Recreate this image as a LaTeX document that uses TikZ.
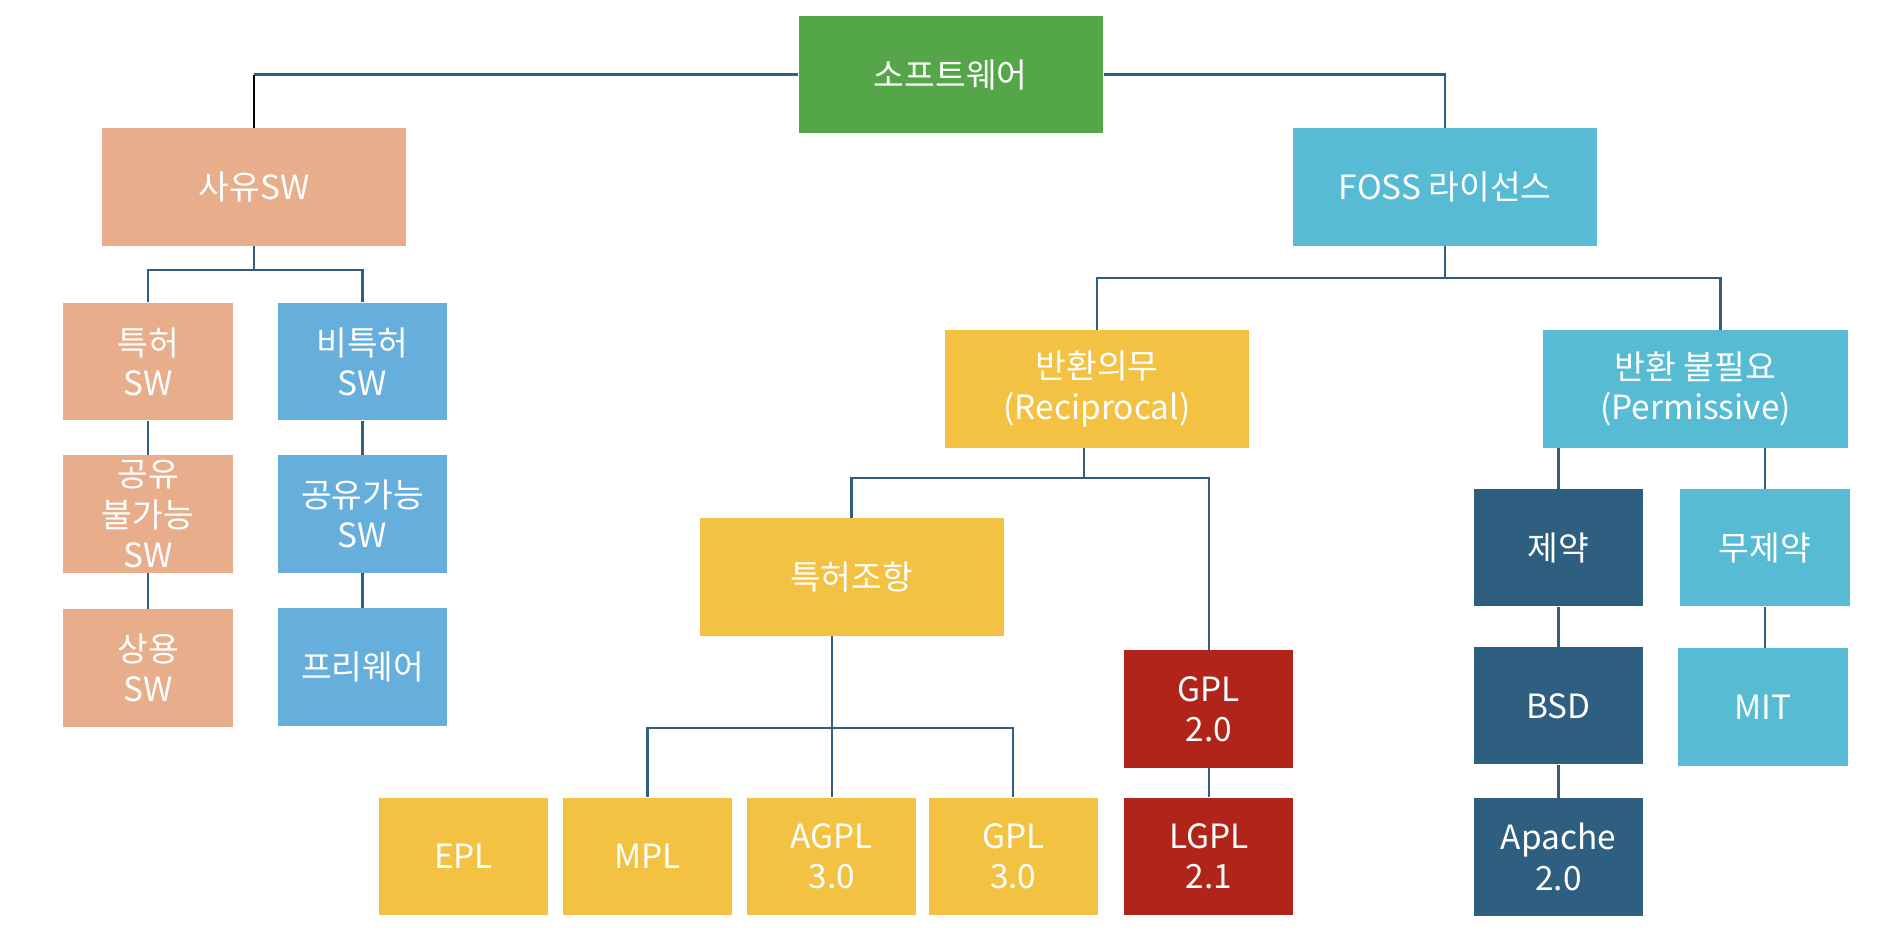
\documentclass[tikz,border=0pt]{standalone}
\usepackage{fontspec}
\setmainfont{Noto Sans CJK KR}
\usepackage{tikz}
\usetikzlibrary{calc}

\definecolor{swgreen}{HTML}{54A648}
\definecolor{propsal}{HTML}{E8AD8A}
\definecolor{freeblue}{HTML}{66AEDC}
\definecolor{fosscyan}{HTML}{57BBD4}
\definecolor{recyel}{HTML}{F4C243}
\definecolor{gplred}{HTML}{B0241A}
\definecolor{darkteal}{HTML}{2E5F80}
\definecolor{linecol}{HTML}{2F5F80}

\begin{document}
\begin{tikzpicture}[x=0.01cm, y=-0.01cm,
    box/.style={rectangle, inner sep=0pt, minimum height=1.17cm, text=white, align=center,
                font=\fontsize{9.5}{11.5}\selectfont},
    wide/.style={box, minimum width=3.04cm},
    narrow/.style={box, minimum width=1.69cm},
    link/.style={draw=linecol, line width=0.7pt}]
    % Define canvas
    \useasboundingbox (0,0) rectangle (1894,944);

    % Top level
    \node[wide, fill=swgreen] (sw) at (950.7,74.5) {소프트웨어};
    \node[wide, fill=propsal] (sayu) at (254,187) {사유SW};
    \node[wide, fill=fosscyan] (foss) at (1445.2,187) {FOSS 라이선스};

    % Proprietary side
    \node[narrow, fill=propsal] (pat) at (148,361.7) {특허\\SW};
    \node[narrow, fill=freeblue] (nonpat) at (362.5,361.7) {비특허\\SW};
    \node[narrow, fill=propsal] (noshare) at (148,514) {공유\\불가능\\SW};
    \node[narrow, fill=freeblue] (share) at (362.5,514) {공유가능\\SW};
    \node[narrow, fill=propsal] (comm) at (148,668) {상용\\SW};
    \node[narrow, fill=freeblue] (free) at (362.5,667) {프리웨어};

    % FOSS side
    \node[wide, fill=recyel] (recip) at (1097,389) {반환의무\\(Reciprocal)};
    \node[wide, fill=fosscyan] (permis) at (1695.5,389) {반환 불필요\\(Permissive)};
    \node[wide, fill=recyel] (patcl) at (851.6,577) {특허조항};
    \node[narrow, fill=gplred] (gpltwo) at (1208.9,709) {GPL\\2.0};
    \node[narrow, fill=gplred] (lgpl) at (1208.9,856.3) {LGPL\\2.1};
    \node[narrow, fill=recyel] (epl) at (463.6,856.3) {EPL};
    \node[narrow, fill=recyel] (mpl) at (647.6,856.3) {MPL};
    \node[narrow, fill=recyel] (agpl) at (831.8,856.3) {AGPL\\3.0};
    \node[narrow, fill=recyel] (gplthree) at (1013.2,856.3) {GPL\\3.0};
    \node[narrow, fill=darkteal] (restr) at (1558.5,547.8) {제약};
    \node[narrow, fill=fosscyan] (unrestr) at (1765,547.8) {무제약};
    \node[narrow, fill=darkteal] (bsd) at (1558.5,705.8) {BSD};
    \node[narrow, fill=fosscyan] (mit) at (1763,707) {MIT};
    \node[narrow, fill=darkteal] (apache) at (1558.5,857) {Apache\\2.0};

    % Bus points
    \coordinate (jl) at (sayu.north |- sw.west);
    \coordinate (busA) at (254,270);
    \coordinate (busB) at (1445.2,278);
    \coordinate (busC) at (1084,478);
    \coordinate (busD) at (831.8,728);

    %Draw connectors
    \draw[link] (sw.west) -- (jl);
    \draw[black, line width=0.7pt] (jl) -- (sayu.north);
    \draw[link] (sw.east) -| (foss.north);

    \draw[link] (sayu.south) -- (busA);
    \draw[link] (pat.north) |- (busA) -| (nonpat.north);

    \draw[link] (foss.south) -- (busB);
    \draw[link] (recip.north) |- (busB) -| ($(permis.north)+(25,0)$);

    \draw[link] ($(recip.south)+(-13,0)$) -- (busC);
    \draw[link] (patcl.north) |- (busC) -| (gpltwo.north);

    \draw[link] (agpl.north |- patcl.south) -- (agpl.north);
    \draw[link] (mpl.north) |- (busD) -| (gplthree.north);

    \draw[link] (restr.north |- permis.south) -- (restr.north);
    \draw[link] (unrestr.north |- permis.south) -- (unrestr.north);

    \foreach \a/\b in {pat/noshare, noshare/comm, nonpat/share, share/free,
                       gpltwo/lgpl, restr/bsd, bsd/apache}
        \draw[link] (\a.south) -- (\b.north);
    \draw[link] (unrestr.south) -- (unrestr.south |- mit.north);
\end{tikzpicture}
\end{document}
